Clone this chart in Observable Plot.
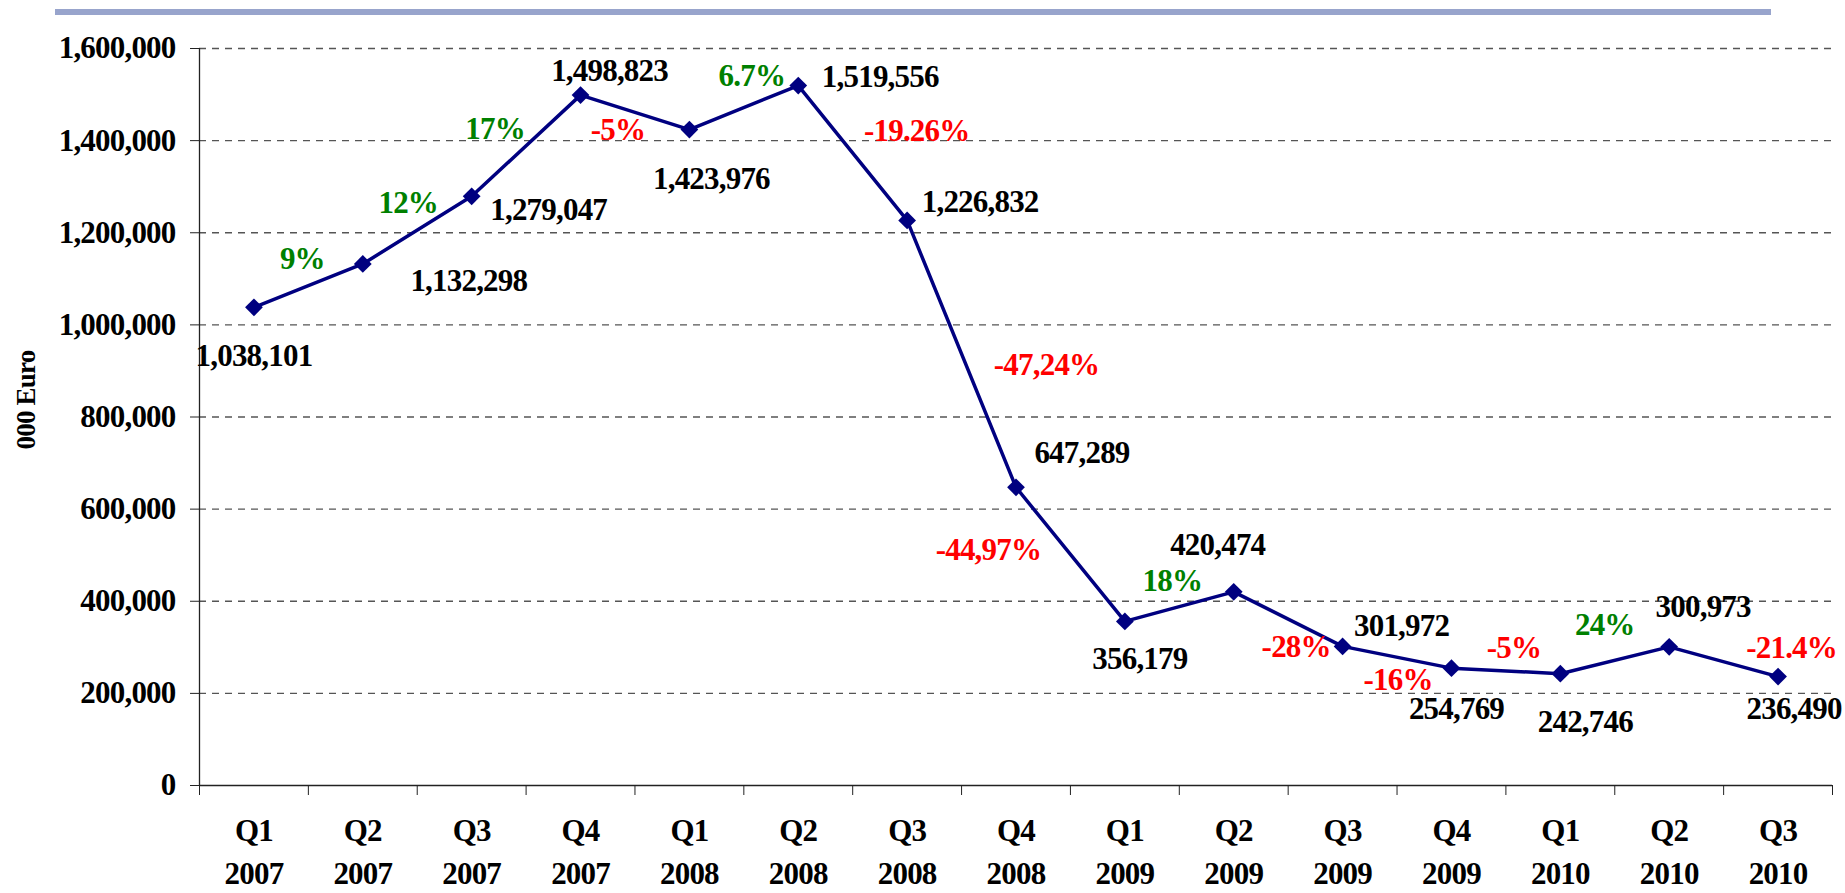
<!DOCTYPE html>
<html>
<head>
<meta charset="utf-8">
<script src="https://cdn.jsdelivr.net/npm/d3@7"></script>
<script src="https://cdn.jsdelivr.net/npm/@observablehq/plot@0.6"></script>
<style>
  html, body { margin: 0; padding: 0; background: #fff; }
  #wrap { position: relative; width: 1845px; height: 893px; }
  #topbar { position: absolute; left: 55px; top: 9px; width: 1716px; height: 6px; background: #98a4cc; }
</style>
</head>
<body>
<div id="wrap"><div id="topbar"></div></div>
<script>
// ---- data ----
const quarters = ["Q1","Q2","Q3","Q4","Q1","Q2","Q3","Q4","Q1","Q2","Q3","Q4","Q1","Q2","Q3"];
const years = ["2007","2007","2007","2007","2008","2008","2008","2008","2009","2009","2009","2009","2010","2010","2010"];
const values = [1038101, 1132298, 1279047, 1498823, 1423976, 1519556, 1226832, 647289, 356179, 420474, 301972, 254769, 242746, 300973, 236490];
const changeLabels = ["9%","12%","17%","-5%","6.7%","-19.26%","-47,24%","-44,97%","18%","-28%","-16%","-5%","24%","-21.4%"];
const yTicks = [0, 200000, 400000, 600000, 800000, 1000000, 1200000, 1400000, 1600000];
const yTitle = "000 Euro";

// ---- layout nudges for annotation labels (pixels) ----
const valueLabelNudge = [[0,49],[106,17],[77,14],[29,-24],[22,49],[82,-8],[73,-18],[66,-34],[15,38],[-16,-47],[59,-20],[5,41],[25,48],[34,-40],[16,33]];
const changeLabelNudge = [[-6,-27],[-9,-27],[-31,-17],[-17,18],[8,-31],[64,-22],[85,11],[-82,-4],[-7,-26],[8,28],[1,23],[8,-23],[-10,-35],[68,-14]];

const idx = values.map((_, i) => i);
const boundaries = d3.range(0, values.length + 1).map(i => i - 0.5);
const fmt = d3.format(",");

const valueText = idx.map(i => Plot.text([i], {
  x: d => d, y: d => values[d], text: d => fmt(values[d]),
  fill: "#000", dx: valueLabelNudge[i][0], dy: valueLabelNudge[i][1]
}));
const changeText = changeLabels.map((t, k) => Plot.text([k], {
  x: d => d + 0.5, y: d => (values[d] + values[d + 1]) / 2, text: () => t,
  fill: t.startsWith("-") ? "#ff0000" : "#008000",
  dx: changeLabelNudge[k][0], dy: changeLabelNudge[k][1]
}));

const chart = Plot.plot({
  width: 1845, height: 893,
  marginTop: 48, marginRight: 13, marginBottom: 108, marginLeft: 199,
  x: { type: "linear", domain: [-0.5, values.length - 0.5] },
  y: { domain: [0, 1600000] },
  style: { font: "bold 31px 'Liberation Serif', 'Times New Roman', serif", letterSpacing: "-0.8px", background: "transparent", color: "#000" },
  marks: [
    Plot.gridY({ ticks: yTicks.filter(d => d > 0), stroke: "#555", strokeOpacity: 1, strokeWidth: 1.3, strokeDasharray: "7,6" }),
    Plot.ruleY([0], { stroke: "#222", strokeWidth: 1.5 }),
    Plot.ruleX([-0.5], { y1: 0, y2: 1600000, stroke: "#222", strokeWidth: 1.3 }),
    Plot.axisY({ ticks: yTicks, tickSize: 9, tickPadding: 15, tickFormat: fmt, label: null, stroke: "#222" }),
    Plot.axisX({ ticks: boundaries, tickSize: 10, tickFormat: () => "", label: null, stroke: "#222" }),
    Plot.axisX({ ticks: idx, tickSize: 0, tickPadding: 25, lineHeight: 1.38, tickFormat: i => quarters[i] + "\n" + years[i], label: null }),
    Plot.text([yTitle], { frameAnchor: "left", textAnchor: "middle", text: d => d, rotate: -90, dx: -173, dy: -17, fontSize: 27 }),
    Plot.line(idx, { x: d => d, y: d => values[d], stroke: "#000080", strokeWidth: 3.5 }),
    Plot.dot(idx, { x: d => d, y: d => values[d], symbol: "diamond2", r: 8, fill: "#000080", stroke: "none" }),
    ...changeText,
    ...valueText
  ]
});
chart.style.position = "absolute";
chart.style.left = "0";
chart.style.top = "0";
document.getElementById("wrap").appendChild(chart);
</script>
</body>
</html>
